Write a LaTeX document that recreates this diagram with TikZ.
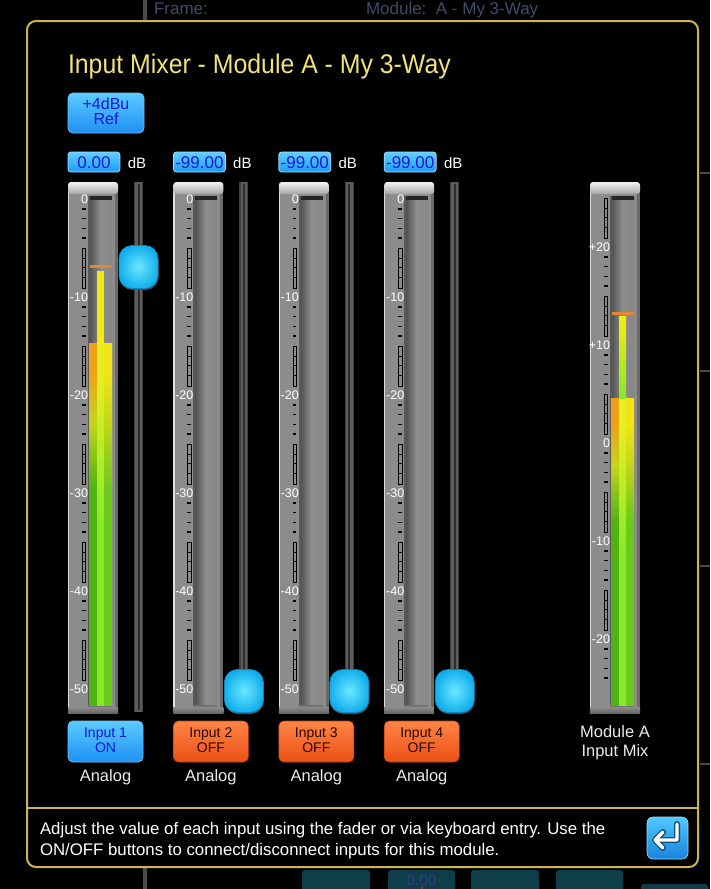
\documentclass[tikz,border=0pt]{standalone}
\usepackage{fontspec}
\setmainfont{Liberation Sans}
\newfontfamily\titlefont[FakeStretch=0.92]{Liberation Sans}
\usetikzlibrary{calc}

\definecolor{bord}{HTML}{CDB64E}
\definecolor{ttl}{HTML}{F2E27A}
\definecolor{btnT}{HTML}{5CCBFF}
\definecolor{btnB}{HTML}{1E90F4}
\definecolor{btntext}{HTML}{1616D6}
\definecolor{orT}{HTML}{FF8446}
\definecolor{orB}{HTML}{EC5014}
\definecolor{ortext}{HTML}{2A0800}
\definecolor{framegrey}{HTML}{8C8C8C}
\definecolor{frameDark}{HTML}{6A6A6A}
\definecolor{topA}{HTML}{F2F2F2}
\definecolor{topB}{HTML}{A6A6A6}
\definecolor{w1}{HTML}{4E4E4E}
\definecolor{w2}{HTML}{8E8E8E}
\definecolor{w3}{HTML}{868686}
\definecolor{groove}{HTML}{5C5C5C}
\definecolor{grooveDark}{HTML}{2C2C2C}
\definecolor{knobIn}{HTML}{6AE8FF}
\definecolor{knobOut}{HTML}{14B0EC}
\definecolor{knobEdge}{HTML}{0E86BC}
\definecolor{vbT}{HTML}{62CEFF}
\definecolor{vbB}{HTML}{1C9CF6}
\definecolor{vbEdge}{HTML}{9ADFFF}
\definecolor{bgtextc}{HTML}{3E4C6A}
\definecolor{bgteal}{HTML}{0E3E4A}
\definecolor{bggrey}{HTML}{4A4A4A}
\definecolor{peak}{HTML}{E08A30}
\definecolor{or1}{HTML}{F0A018}
\definecolor{yl1}{HTML}{F4E414}
\definecolor{yg1}{HTML}{C4D41C}
\definecolor{gr1}{HTML}{52B214}
\definecolor{gr2}{HTML}{6CC81C}
\definecolor{gc1}{HTML}{E6F020}
\definecolor{gc2}{HTML}{86EA2A}
\definecolor{entT}{HTML}{52C8FF}
\definecolor{entB}{HTML}{1684DC}
\definecolor{entEdge}{HTML}{15507A}

\pgfdeclareverticalshading{barL}{100bp}{color(0bp)=(gr1); color(25bp)=(gr1); color(55bp)=(gr1); color(64bp)=(yg1); color(71bp)=(or1); color(100bp)=(or1)}
\pgfdeclareverticalshading{barR}{100bp}{color(0bp)=(gr2); color(25bp)=(gr2); color(55bp)=(gr2); color(64bp)=(yg1); color(71bp)=(yl1); color(100bp)=(yl1)}
\pgfdeclareverticalshading{barC}{100bp}{color(0bp)=(gc2); color(25bp)=(gc2); color(50bp)=(gc2); color(70bp)=(gc1); color(100bp)=(gc1)}

\tikzset{
  gui/.style={inner sep=0pt, outer sep=0pt},
  scl/.style={gui, text=white, font=\fontsize{12.5}{13}\selectfont},
  dbtxt/.style={gui, text=white, font=\fontsize{15}{16}\selectfont},
  valtxt/.style={gui, text=btntext, font=\fontsize{17}{18}\selectfont},
  btntxt/.style={gui, align=center, font=\fontsize{14}{15}\selectfont},
  anatxt/.style={gui, text=white!92!black, font=\fontsize{16.5}{17}\selectfont},
  bgtxt/.style={gui, text=bgtextc, font=\fontsize{17}{19}\selectfont},
  helptxt/.style={gui, text=white, font=\fontsize{16.8}{21}\selectfont},
}

\newcommand\meterbody[1]{%
  \fill[framegrey] (#1,186) rectangle (#1+50,712);
  \fill[frameDark] (#1+47,186) rectangle (#1+50,712);
  \fill[white!70!framegrey] (#1,186) rectangle (#1+1.2,712);
  \shade[top color=topA, bottom color=topB, rounded corners=3] (#1,182) rectangle (#1+50,194);
  \shade[left color=w1, right color=w3, middle color=w2] (#1+21,197) rectangle (#1+44,706);
  \fill[black!85] (#1+20,196) rectangle (#1+44,199.5);
  \fill[black!65] (#1+20,196) rectangle (#1+22,706);
  \fill[black!55] (#1+20,705) rectangle (#1+44,707);
  \shade[top color=framegrey, bottom color=black!60] (#1,707) rectangle (#1+50,713);
}
\newcommand\dashtick[2]{\fill[black] (#1+14,#2-0.8) rectangle (#1+17.5,#2+0.8);}
\newcommand\ladder[2]{% X, label y
  \draw[black, line width=0.8] (#1+14.3,#2-49) rectangle (#1+17.7,#2-9);
  \foreach \jj in {1,...,3} {\draw[black, line width=0.6] (#1+14.3,{#2-49+9.8*\jj}) -- (#1+17.7,{#2-49+9.8*\jj});}
}

\begin{document}
\begin{tikzpicture}[x=1pt,y=-1pt]
\useasboundingbox (0,0) rectangle (710,889);
\fill[black] (0,0) rectangle (710,889);
\begin{scope}
\clip (0,0) rectangle (710,889);
% background behind the dialog
\fill[bggrey] (143,0) rectangle (147,21);
\node[bgtxt, anchor=base west] (bgframe) at (154,14) {Frame:};
\node[bgtxt, anchor=base west] (bgmodule) at (366,14) {Module:\ \ A - My 3-Way};
\foreach \a/\b in {302/370,388/455,471/539,556/623}
  {\fill[bgteal, rounded corners=3] (\a,870) rectangle (\b,896);}
\node[bgtxt, text=bgtextc!80!blue, font=\fontsize{15}{16}\selectfont, anchor=base] (bgval) at (421.5,885) {0.00};
\fill[bggrey] (143,868) rectangle (147,889);
\fill[bggrey] (420.5,886) rectangle (422.5,889);
\fill[bgteal, rounded corners=3] (641,884) rectangle (708,896);
\foreach \yy in {172,370,565,763} {\fill[bggrey] (700,\yy) rectangle (710,\yy+2);}
\end{scope}

% dialog
\draw[bord, line width=2, fill=black, rounded corners=9] (27,21) rectangle (698,867);
\draw[bord, line width=1.6] (27,808) -- (698,808);

\node[gui, anchor=base west, text=ttl, font=\titlefont\fontsize{27}{30}\selectfont] (title) at (68,73) {Input Mixer - Module A - My 3-Way};

% +4dBu Ref button
\shade[top color=btnT, bottom color=btnB, rounded corners=5] (68,93) rectangle (144,133);
\draw[vbEdge!60!btnB, line width=0.8, rounded corners=5] (68,93) rectangle (144,133);
\node[btntxt, text=btntext, font=\fontsize{16}{15.5}\selectfont] (ref) at (106,111.5) {+4dBu\\Ref};

% channels
\foreach \i/\v/\ky in {0/0.00/267,1/-99.00/691,2/-99.00/691,3/-99.00/691} {
  \pgfmathsetmacro\X{68+105.4*\i}
  % value box
  \shade[top color=vbT, bottom color=vbB, rounded corners=3] (\X,152) rectangle (\X+52,172);
  \draw[vbEdge, line width=0.8, rounded corners=3] (\X,152) rectangle (\X+52,172);
  \node[valtxt, anchor=base] (val\i) at (\X+26,168.5) {\v};
  \node[dbtxt, anchor=base] (db\i) at (\X+69,168) {dB};
  % meter
  \meterbody{\X}
  \foreach \k/\lab in {0/0,1/-10,2/-20,3/-30,4/-40,5/-50}
    {\node[scl, anchor=east] (sc\i\k) at (\X+20,199+98*\k) {\lab};}
  \foreach \k in {0,...,4} {\foreach \j in {1,...,4} {\dashtick{\X}{199+98*\k+9.8*\j}}}
  \foreach \k in {1,...,5} {\ladder{\X}{199+98*\k}}
  % fader groove
  \fill[groove] (\X+66,182) rectangle (\X+75,712);
  \fill[black!75] (\X+66,182) rectangle (\X+67.2,712);
  \fill[black!75] (\X+73.8,182) rectangle (\X+75,712);
  \fill[grooveDark] (\X+69.6,184) rectangle (\X+71.6,710);
  % knob
  \fill[black!70, rounded corners=13] (\X+51.5,\ky-20) rectangle (\X+90.5,\ky+23);
  \shade[inner color=knobIn, outer color=knobOut, rounded corners=13] (\X+51,\ky-21.5) rectangle (\X+90,\ky+21.5);
  \draw[knobEdge, line width=0.8, rounded corners=13] (\X+51,\ky-21.5) rectangle (\X+90,\ky+21.5);
  % labels
  \node[anatxt, anchor=base] (an\i) at (\X+37.5,781) {Analog};
}

% channel 1 level
\shade[shading=barL] (89,343) rectangle (97.5,705);
\shade[shading=barR] (103.5,343) rectangle (112,705);
\shade[shading=barC] (97,343) rectangle (104,705);
\fill[yl1!80!yellow] (97,271) rectangle (104,343);
\fill[peak] (90,264.5) rectangle (112,267.5);

% input buttons
\shade[top color=btnT, bottom color=btnB, rounded corners=5] (68,721) rectangle (143,762);
\draw[vbEdge!60!btnB, line width=0.8, rounded corners=5] (68,721) rectangle (143,762);
\node[btntxt, text=btntext] (btn0) at (105.5,740) {Input 1\\ON};
\foreach \i in {1,2,3} {
  \pgfmathsetmacro\X{68+105.4*\i}
  \pgfmathtruncatemacro\n{\i+1}
  \shade[top color=orT, bottom color=orB, rounded corners=5] (\X,721) rectangle (\X+75,762);
  \draw[orB!80!black, line width=0.6, rounded corners=5] (\X,721) rectangle (\X+75,762);
  \node[btntxt, text=ortext] (btn\i) at (\X+37.5,740) {Input \n\\OFF};
}

% module mix meter
\meterbody{590}
\foreach \k/\lab in {0/+20,1/+10,2/0,3/-10,4/-20} {
  \node[scl, anchor=east] (mx\k) at (610,247+98*\k) {\lab};
  \ladder{590}{247+98*\k}
  \foreach \j in {1,...,4} {\dashtick{590}{247+98*\k+9.8*\j}}
}
\shade[shading=barL] (611,398) rectangle (619.5,705);
\shade[shading=barR] (625.5,398) rectangle (634,705);
\shade[shading=barC] (619,398) rectangle (626,705);
\shade[top color=yl1!70!yellow, bottom color=gc2] (619,316) rectangle (626,398);
\fill[peak] (612,311.5) rectangle (634,314.5);
\node[btntxt, text=white!92!black, font=\fontsize{16.5}{19}\selectfont] (mixlab) at (615,743) {Module A\\Input Mix};

% help text
\node[helptxt, anchor=base west] (help1) at (40,834) {Adjust the value of each input using the fader or via keyboard entry. Use the};
\node[helptxt, anchor=base west] (help2) at (40,855) {ON/OFF buttons to connect/disconnect inputs for this module.};

% enter button
\shade[top color=entT, bottom color=entB, rounded corners=6] (647,817) rectangle (688,859);
\draw[entT!60!white, line width=0.6, rounded corners=6] (647,817) rectangle (688,859);
\coordinate (e1) at (677,824);
\coordinate (e2) at (677,840);
\coordinate (e3) at (655,840);
\coordinate (c1) at (663,832);
\coordinate (c2) at (663,848);
\draw[entEdge, line width=6, line cap=round, line join=round] (e1) -- (e2) -- (e3) (c1) -- (e3) -- (c2);
\draw[white, line width=3.4, line cap=round, line join=round] (e1) -- (e2) -- (e3) (c1) -- (e3) -- (c2);
\end{tikzpicture}
\end{document}
